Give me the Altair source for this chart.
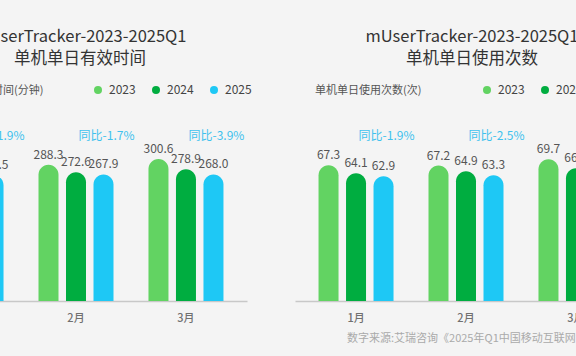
import altair as alt
import pandas as pd

FONT = "Noto Sans CJK SC"

months = ["1月", "2月", "3月"]
years = ["2023", "2024", "2025"]

# 单机单日有效时间（分钟）
time_2023 = [285.0, 288.3, 300.6]
time_2024 = [271.7, 272.6, 278.9]
time_2025 = [266.5, 267.9, 268.0]
time_yoy = ["同比-1.9%", "同比-1.7%", "同比-3.9%"]

# 单机单日使用次数（次）
count_2023 = [67.3, 67.2, 69.7]
count_2024 = [64.1, 64.9, 66.1]
count_2025 = [62.9, 63.3, 64.4]
count_yoy = ["同比-1.9%", "同比-2.5%", "同比-2.6%"]

colors = ["#62D362", "#00AD40", "#1EC8F5"]


def long_table(v23, v24, v25):
    rows = []
    for i, m in enumerate(months):
        for y, vals in zip(years, (v23, v24, v25)):
            rows.append({"month": m, "year": y, "value": vals[i]})
    return pd.DataFrame(rows)


def text_layer(txt, x, y, size, color, align="center", weight="normal"):
    return alt.Chart(pd.DataFrame({"t": [txt]})).mark_text(
        font=FONT, fontSize=size, color=color, align=align,
        baseline="middle", fontWeight=weight
    ).encode(text="t:N", x=alt.value(x), y=alt.value(y))


def panel(df, yoy, x_range, y_domain, y_range, baseline,
          title1, title2, subtitle, title_x, sub_x, legend_x):
    xs = alt.Scale(domain=months, range=x_range, paddingInner=0, paddingOuter=0.055)
    xo = alt.Scale(domain=years, paddingInner=0.2727, paddingOuter=0.636)
    ys = alt.Scale(domain=y_domain, range=y_range, zero=False, nice=False)
    xaxis = alt.Axis(orient="bottom", title=None, labelAngle=0, domainColor="#c8c8c8",
                     domainWidth=1.5, ticks=False, labelFont=FONT, labelFontSize=11,
                     labelColor="#707070", labelPadding=11, labelFontWeight=500, grid=False)
    xenc = alt.X("month:N", scale=xs, sort=months, axis=xaxis)
    xoenc = alt.XOffset("year:N", scale=xo, sort=years)

    bars = alt.Chart(df).mark_bar(cornerRadiusTopLeft=10, cornerRadiusTopRight=10).encode(
        x=xenc,
        xOffset=xoenc,
        y=alt.Y("value:Q", scale=ys, axis=None),
        y2=alt.datum(baseline),
        color=alt.Color("year:N", scale=alt.Scale(domain=years, range=colors),
                        legend=alt.Legend(title=None, orient="none", legendX=legend_x,
                                          legendY=84, direction="horizontal",
                                          symbolType="circle", symbolSize=64,
                                          symbolStrokeWidth=0, labelFont=FONT,
                                          labelFontSize=12, labelColor="#444444",
                                          labelOffset=5, columnPadding=14, padding=0)),
    )
    labels = alt.Chart(df).mark_text(font=FONT, fontSize=12, color="#555555",
                                     baseline="alphabetic", dy=-6).encode(
        x=xenc,
        xOffset=xoenc,
        y=alt.Y("value:Q", scale=ys, axis=None),
        text=alt.Text("value:Q", format=".1f"),
    )
    yoy_df = pd.DataFrame({"month": months, "year": ["2025"] * 3, "t": yoy})
    yoy_text = alt.Chart(yoy_df).mark_text(font=FONT, fontSize=12, color="#3FC2EE",
                                           baseline="middle", dx=3).encode(
        x=xenc,
        xOffset=xoenc,
        y=alt.value(136),
        text="t:N",
    )
    return alt.layer(
        bars, labels, yoy_text,
        text_layer(title1, title_x, 37, 16.5, "#333333"),
        text_layer(title2, title_x, 59, 16.5, "#333333"),
        text_layer(subtitle, sub_x, 91, 11, "#555555", align="left"),
    )


left = panel(long_table(time_2023, time_2024, time_2025), time_yoy,
             [-95, 247], [0, 320], [301, 301 - 320 * 0.4724], 0,
             "mUserTracker-2023-2025Q1", "单机单日有效时间", "单机单日有效时间(分钟)",
             80, -74, 92)
right = panel(long_table(count_2023, count_2024, count_2025), count_yoy,
              [295, 637], [13, 73], [301, 151], 13,
              "mUserTracker-2023-2025Q1", "单机单日使用次数", "单机单日使用次数(次)",
              472, 315, 481)

footer = text_layer("数字来源:艾瑞咨询《2025年Q1中国移动互联网流量季度报告》",
                    347, 339, 11, "#AAAAAA", align="left")

chart = alt.layer(left, right, footer).resolve_scale(
    x="independent", y="independent", xOffset="independent", color="independent"
).resolve_axis(x="independent").resolve_legend(color="independent").properties(
    width=576, height=301,
    padding={"left": 0, "top": 0, "right": 0, "bottom": 55},
    autosize=alt.AutoSizeParams(type="none"),
    background="#F4F4F4",
).configure_view(stroke=None)

chart.save("out.html", embed_options={"renderer": "svg", "actions": False})
